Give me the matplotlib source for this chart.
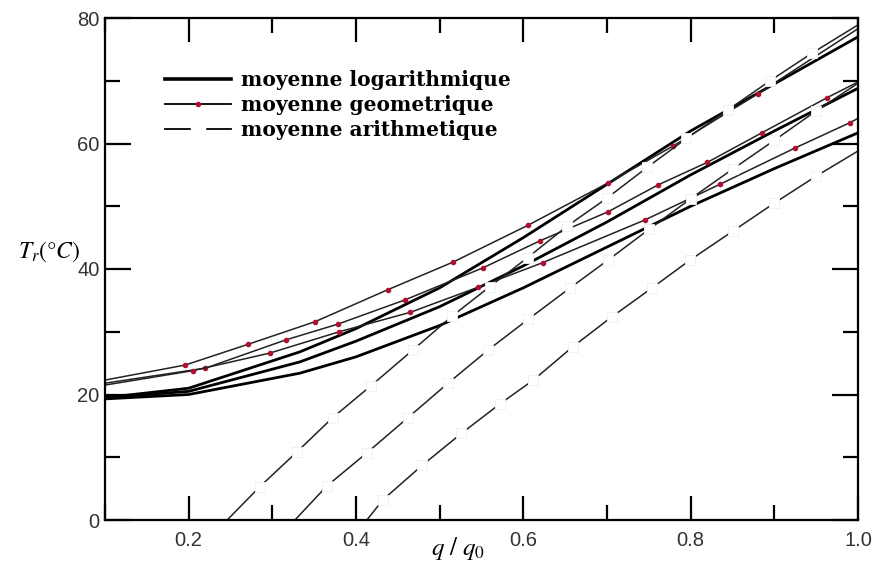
import matplotlib
matplotlib.use("Agg")
import matplotlib.pyplot as plt
from matplotlib.ticker import MultipleLocator
from matplotlib.font_manager import FontProperties

# moyenne logarithmique (thick solid)
log1_x = [0.10, 0.20, 0.333, 0.40, 0.50, 0.60, 0.70, 0.80, 0.90, 1.00]
log1_y = [19.5, 21.0, 26.8, 30.5, 37.0, 45.0, 53.5, 62.0, 69.5, 77.0]
log2_x = [0.10, 0.20, 0.333, 0.40, 0.50, 0.60, 0.70, 0.80, 0.90, 1.00]
log2_y = [19.5, 20.5, 25.2, 28.5, 34.0, 40.5, 47.5, 55.0, 62.0, 68.8]
log3_x = [0.10, 0.20, 0.333, 0.40, 0.50, 0.60, 0.70, 0.80, 0.90, 1.00]
log3_y = [19.3, 20.0, 23.4, 26.0, 31.0, 37.0, 43.5, 50.0, 56.0, 61.7]

# moyenne geometrique (thin solid, red dots)
geo1_x = [0.10, 0.196, 0.271, 0.351, 0.438, 0.516, 0.606, 0.701, 0.779, 0.880, 1.00]
geo1_y = [22.3, 24.7, 28.0, 31.6, 36.7, 41.1, 47.0, 53.7, 59.6, 67.9, 78.3]
geo2_x = [0.10, 0.220, 0.316, 0.378, 0.459, 0.552, 0.620, 0.701, 0.761, 0.820, 0.885, 0.963, 1.00]
geo2_y = [21.8, 24.2, 28.7, 31.2, 35.1, 40.2, 44.5, 49.1, 53.4, 57.0, 61.7, 67.3, 69.8]
geo3_x = [0.10, 0.205, 0.297, 0.380, 0.465, 0.546, 0.623, 0.745, 0.835, 0.925, 0.990, 1.00]
geo3_y = [21.5, 23.8, 26.6, 30.0, 33.1, 37.1, 41.0, 47.8, 53.5, 59.3, 63.3, 64.0]

# moyenne arithmetique (thin, white squares)
ari1_x = [0.246, 0.285, 0.329, 0.372, 0.418, 0.468, 0.515, 0.560, 0.605, 0.652, 0.700, 0.748, 0.795, 0.845, 0.895, 0.945, 1.00]
ari1_y = [0.0, 5.3, 10.8, 16.3, 21.4, 27.1, 32.5, 37.2, 41.8, 46.8, 51.3, 56.2, 60.8, 65.4, 70.0, 74.4, 78.9]
ari2_x = [0.327, 0.365, 0.413, 0.462, 0.510, 0.558, 0.606, 0.656, 0.701, 0.750, 0.800, 0.850, 0.900, 0.950, 1.00]
ari2_y = [0.0, 5.4, 10.7, 16.3, 21.8, 27.1, 32.0, 37.0, 41.4, 46.3, 51.2, 55.9, 60.5, 65.2, 69.6]
ari3_x = [0.413, 0.432, 0.479, 0.526, 0.572, 0.612, 0.659, 0.706, 0.754, 0.799, 0.850, 0.900, 0.950, 1.00]
ari3_y = [0.0, 3.2, 8.7, 13.8, 18.5, 22.3, 27.6, 32.4, 37.0, 41.4, 46.0, 50.5, 54.8, 58.8]

legend_labels = ["moyenne logarithmique", "moyenne geometrique", "moyenne arithmetique"]

plt.rcParams["mathtext.fontset"] = "stix"
fig = plt.figure(figsize=(8.77, 5.70), dpi=100)
ax = fig.add_axes([105 / 877, 50 / 570, 753 / 877, 502 / 570])

red = "#b01030"
for xs, ys in [(log1_x, log1_y), (log2_x, log2_y), (log3_x, log3_y)]:
    ax.plot(xs, ys, color="black", lw=2.0, solid_capstyle="butt")
for xs, ys in [(geo1_x, geo1_y), (geo2_x, geo2_y), (geo3_x, geo3_y)]:
    ax.plot(xs, ys, color="#222222", lw=1.1, marker="o", ms=3.0,
            mfc=red, mec=red, markevery=slice(1, -1))
for xs, ys in [(ari1_x, ari1_y), (ari2_x, ari2_y), (ari3_x, ari3_y)]:
    ax.plot(xs, ys, color="#222222", lw=1.1, marker="s", ms=6.5,
            mfc="white", mec="#f0f0f0", mew=0.6, markevery=slice(1, -1))

ax.set_xlim(0.1, 1.0)
ax.set_ylim(0, 80)
ax.xaxis.set_major_locator(MultipleLocator(0.2))
ax.xaxis.set_minor_locator(MultipleLocator(0.1))
ax.yaxis.set_major_locator(MultipleLocator(20))
ax.yaxis.set_minor_locator(MultipleLocator(10))
ax.set_xticks([0.2, 0.4, 0.6, 0.8, 1.0])
ax.set_xticklabels(["0.2", "0.4", "0.6", "0.8", "1.0"])
ax.tick_params(which="both", direction="in", top=True, right=True, width=1.6,
               labelsize=14.5, labelcolor="#333333", labelfontfamily="Liberation Sans")
ax.tick_params(axis="x", which="major", length=17, pad=8)
ax.tick_params(axis="y", which="major", length=19, pad=4)
ax.tick_params(which="minor", length=11)
for sp in ax.spines.values():
    sp.set_linewidth(1.6)

# legend
h1, = ax.plot([], [], color="black", lw=2.6)
h2, = ax.plot([], [], color="black", lw=1.3, marker="o", ms=3, mfc=red, mec=red)
h3, = ax.plot([], [], color="black", lw=1.3, marker="s", ms=10, mfc="white", mec="white")
ax.legend([h1, h2, h3], legend_labels, loc="upper left", bbox_to_anchor=(0.069, 0.912),
          frameon=False, numpoints=1, handlelength=3.3, handletextpad=0.45,
          labelspacing=0.25, borderaxespad=0,
          prop=FontProperties(family="DejaVu Serif", weight="bold", size=14.5))

fig.text(18 / 877, 1 - 252 / 570, r"$T_r(°C)$", fontsize=17, va="center", ha="left")
fig.text(458 / 877, 1 - 549 / 570, r"$q\ /\ q_0$", fontsize=18, va="center", ha="center")

fig.savefig("out.png", dpi=100, facecolor="white")
